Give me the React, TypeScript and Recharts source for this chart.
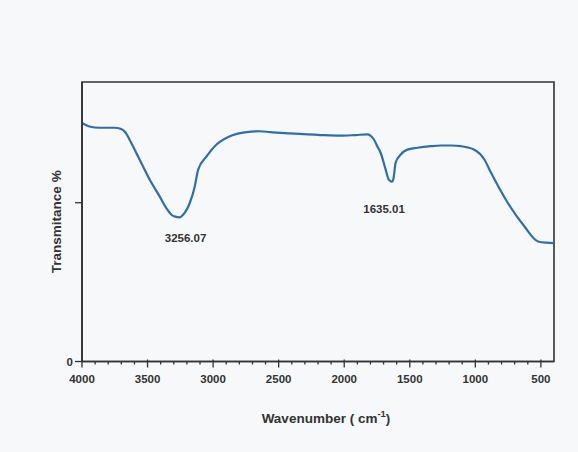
import React from 'react';
import { LineChart, Line, XAxis, YAxis, ReferenceDot, ReferenceArea } from 'recharts';

// FTIR spectrum: wavenumber (cm-1) against transmittance (%)
const wavenumbers = [
  4000, 3944, 3867, 3753, 3701, 3668, 3638, 3561, 3484, 3408, 3357, 3318, 3290, 3256.07,
  3229, 3178, 3140, 3114, 3050, 2974, 2872, 2744, 2641, 2565, 2412, 2182, 2029, 1914,
  1825, 1774, 1748, 1723, 1684, 1661, 1646, 1635.01, 1623, 1608, 1570, 1519, 1442, 1340,
  1263, 1180, 1110, 1008, 931, 880, 752, 625, 522, 459, 400,
];
const transmittance = [
  75.1, 74.0, 73.6, 73.6, 73.2, 72.1, 69.9, 63.6, 57.3, 52.0, 48.3, 46.2, 45.6, 45.4,
  46.2, 49.9, 55.1, 60.4, 64.6, 68.3, 70.9, 72.2, 72.5, 72.2, 71.8, 71.3, 71.1, 71.3,
  71.5, 69.9, 67.8, 65.8, 60.4, 57.3, 56.8, 56.6, 57.9, 62.6, 65.1, 66.7, 67.3, 67.8,
  68.0, 68.0, 67.8, 66.7, 63.6, 59.4, 49.9, 42.5, 37.8, 37.4, 37.3,
];

// Annotated absorption bands
const peakPositions = [3256.07, 1635.01];
const peakValues = [45.4, 56.6];
const peakLabels = ['3256.07', '1635.01'];
const peakLabelShift = [[6, 21], [-8, 27]];

const xDomain = [400, 4000];
const yDomain = [0, 88];
const xTicks: number[] = [];
for (let v = 4000; v >= 500; v -= 100) xTicks.push(v);
const yTicks = [0, 50];

const data = wavenumbers.map((w, i) => ({ wn: w, t: transmittance[i] }));

const FONT = '"Liberation Sans", Arial, Helvetica, sans-serif';
const INK = '#333333';
const LINE = '#2e6eaa';
const BG = '#f6f8fa';

const XTick = (props: any) => {
  const { x, y, payload } = props;
  const v = payload.value as number;
  const major = v % 500 === 0;
  return (
    <g>
      <line x1={x} x2={x} y1={y - (major ? 2 : 0)} y2={y + (major ? 6 : 3)} stroke={INK} strokeWidth={1.3} />
      {major && (
        <text x={x} y={y + 21} textAnchor="middle" fontFamily={FONT} fontSize={11.5} fontWeight="bold" fill={INK}>
          {v}
        </text>
      )}
    </g>
  );
};

const XTitle = (props: any) => {
  const vb = props.viewBox || { x: 0, y: 0, width: 0, height: 0 };
  const cx = vb.x + vb.width / 2 + 8;
  const baseY = vb.y + 61;
  return (
    <text x={cx} y={baseY} textAnchor="middle" fontFamily={FONT} fontSize={13.5} fontWeight="bold" fill={INK}>
      Wavenumber ( cm
      <tspan fontSize={9.5} dy={-6}>-1</tspan>
      <tspan dy={6}>)</tspan>
    </text>
  );
};

const YTitle = (props: any) => {
  const vb = props.viewBox || { x: 0, y: 0, width: 0, height: 0 };
  const cx = vb.x + 34;
  const cy = vb.y + vb.height / 2;
  return (
    <text
      x={cx}
      y={cy}
      transform={`rotate(-90 ${cx} ${cy})`}
      textAnchor="middle"
      dominantBaseline="central"
      fontFamily={FONT}
      fontSize={13.5}
      fontWeight="bold"
      fill={INK}
    >
      Transmitance %
    </text>
  );
};

const makePeakLabel = (text: string, dx: number, dy: number) => (props: any) => {
  const vb = props.viewBox || { x: 0, y: 0, width: 0, height: 0 };
  const cx = vb.x + (vb.width || 0) / 2 + dx;
  const cy = vb.y + (vb.height || 0) / 2 + dy;
  return (
    <text x={cx} y={cy} textAnchor="middle" dominantBaseline="central" fontFamily={FONT} fontSize={11.5} fontWeight="bold" fill={INK}>
      {text}
    </text>
  );
};

export default function App() {
  return (
    <div style={{ position: 'absolute', left: 0, top: 0, width: 578, height: 452, background: BG }}>
      <LineChart width={578} height={452} data={data} margin={{ top: 82, right: 24, bottom: 60, left: 22 }}>
        <XAxis
          dataKey="wn"
          type="number"
          domain={xDomain}
          reversed
          ticks={xTicks}
          interval={0}
          tickSize={0}
          tickMargin={0}
          tickLine={false}
          tick={<XTick />}
          height={30.5}
          axisLine={{ stroke: INK, strokeWidth: 1.6 }}
          allowDataOverflow
          label={XTitle}
        />
        <YAxis
          type="number"
          domain={yDomain}
          ticks={yTicks}
          interval={0}
          width={60}
          tickSize={7}
          tickMargin={2}
          tickFormatter={(v: number) => (v === 0 ? '0' : '')}
          tick={{ fontFamily: FONT, fontSize: 11.5, fontWeight: 'bold', fill: INK }}
          tickLine={{ stroke: INK, strokeWidth: 1.3 }}
          axisLine={{ stroke: INK, strokeWidth: 1.6 }}
          allowDataOverflow
          label={YTitle}
        />
        {/* plot frame */}
        <ReferenceArea
          x1={xDomain[1]}
          x2={xDomain[0]}
          y1={yDomain[0]}
          y2={yDomain[1]}
          fill="none"
          stroke={INK}
          strokeWidth={1.6}
          fillOpacity={0}
          strokeOpacity={1}
        />
        <Line
          type="monotone"
          dataKey="t"
          stroke={LINE}
          strokeWidth={2.2}
          dot={false}
          activeDot={false}
          isAnimationActive={false}
        />
        {peakPositions.map((p, i) => (
          <ReferenceDot
            key={peakLabels[i]}
            x={p}
            y={peakValues[i]}
            r={0}
            fill="none"
            stroke="none"
            label={makePeakLabel(peakLabels[i], peakLabelShift[i][0], peakLabelShift[i][1])}
          />
        ))}
      </LineChart>
    </div>
  );
}
